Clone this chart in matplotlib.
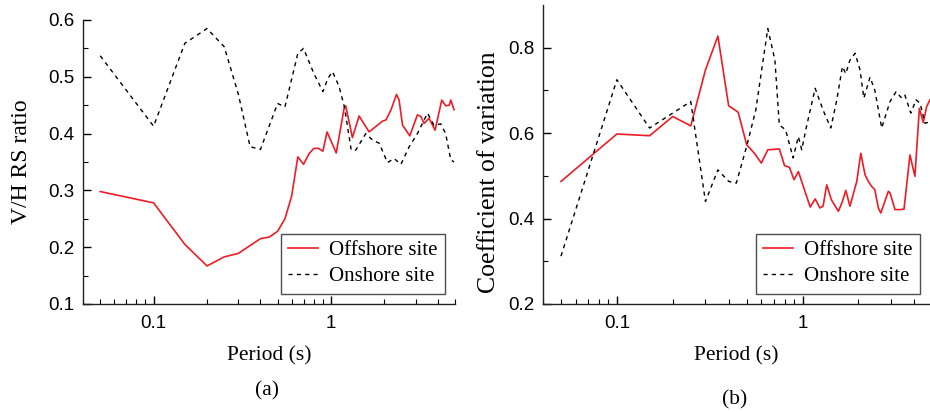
import matplotlib
matplotlib.use("Agg")
import matplotlib.pyplot as plt
from matplotlib.ticker import LogLocator, MultipleLocator, NullFormatter, FormatStrFormatter

# (a) V/H response spectral ratio
off_a_period = [0.05, 0.1, 0.15, 0.2, 0.25, 0.3, 0.4, 0.45, 0.5, 0.55, 0.6, 0.65, 0.7, 0.75,
                0.8, 0.85, 0.9, 0.95, 1.07, 1.19, 1.21, 1.32, 1.44, 1.64, 1.83, 1.95, 2.04,
                2.18, 2.34, 2.42, 2.53, 2.78, 3.07, 3.21, 3.35, 3.57, 3.86, 4.21, 4.43, 4.64,
                4.73, 4.94]
off_a_value = [0.298, 0.278, 0.205, 0.167, 0.183, 0.189, 0.215, 0.218, 0.228, 0.25, 0.29,
               0.359, 0.346, 0.364, 0.374, 0.374, 0.369, 0.403, 0.366, 0.447, 0.449, 0.393,
               0.431, 0.403, 0.415, 0.422, 0.424, 0.442, 0.469, 0.459, 0.415, 0.396, 0.433,
               0.43, 0.418, 0.427, 0.406, 0.459, 0.449, 0.45, 0.459, 0.442]
on_a_period = [0.05, 0.1, 0.15, 0.2, 0.25, 0.3, 0.35, 0.4, 0.5, 0.55, 0.65, 0.7, 0.8, 0.9,
               0.96, 1.02, 1.11, 1.19, 1.3, 1.38, 1.57, 1.71, 1.87, 2.08, 2.27, 2.48, 2.76,
               3.07, 3.5, 3.8, 4.16, 4.43, 4.73, 4.94]
on_a_value = [0.537, 0.413, 0.559, 0.585, 0.553, 0.47, 0.377, 0.372, 0.453, 0.447, 0.541,
              0.55, 0.506, 0.474, 0.497, 0.509, 0.483, 0.447, 0.371, 0.371, 0.40, 0.389,
              0.383, 0.349, 0.356, 0.346, 0.377, 0.40, 0.436, 0.415, 0.417, 0.40, 0.354, 0.35]

# (b) coefficient of variation
off_b_period = [0.05, 0.1, 0.15, 0.2, 0.25, 0.3, 0.35, 0.4, 0.45, 0.5, 0.55, 0.6, 0.65, 0.75,
                0.8, 0.85, 0.9, 0.95, 1.03, 1.1, 1.17, 1.24, 1.29, 1.35, 1.43, 1.56, 1.64,
                1.71, 1.8, 1.96, 2.06, 2.17, 2.26, 2.36, 2.45, 2.56, 2.64, 2.9, 2.96, 3.15,
                3.35, 3.52, 3.79, 4.03, 4.26, 4.47, 4.66, 4.86]
off_b_value = [0.487, 0.598, 0.594, 0.639, 0.617, 0.748, 0.827, 0.664, 0.649, 0.573, 0.553,
               0.53, 0.561, 0.563, 0.524, 0.52, 0.491, 0.51, 0.464, 0.427, 0.446, 0.425,
               0.429, 0.479, 0.444, 0.417, 0.44, 0.466, 0.429, 0.487, 0.553, 0.503, 0.487,
               0.475, 0.468, 0.425, 0.413, 0.464, 0.46, 0.421, 0.421, 0.422, 0.549, 0.499,
               0.658, 0.625, 0.662, 0.678]
on_b_period = [0.05, 0.1, 0.15, 0.2, 0.25, 0.3, 0.35, 0.4, 0.44, 0.5, 0.56, 0.65, 0.71, 0.75,
               0.81, 0.89, 0.95, 0.99, 1.05, 1.17, 1.29, 1.42, 1.53, 1.64, 1.71, 1.8, 1.92,
               2.04, 2.14, 2.31, 2.45, 2.67, 2.96, 3.19, 3.42, 3.56, 3.83, 4.09, 4.3, 4.57,
               4.86]
on_b_value = [0.312, 0.725, 0.612, 0.647, 0.674, 0.44, 0.514, 0.487, 0.483, 0.569, 0.654,
              0.845, 0.771, 0.619, 0.608, 0.542, 0.592, 0.561, 0.615, 0.705, 0.654, 0.612,
              0.678, 0.756, 0.739, 0.771, 0.787, 0.748, 0.682, 0.731, 0.701, 0.612, 0.674,
              0.697, 0.682, 0.689, 0.647, 0.678, 0.67, 0.623, 0.627]

serif = "Liberation Serif"
sans = "Liberation Sans"

fig = plt.figure(figsize=(9.3, 4.12), dpi=100)
ax1 = fig.add_axes([83 / 930, 1 - 304 / 412, 372 / 930, 284 / 412])
ax2 = fig.add_axes([543 / 930, 1 - 304 / 412, 387 / 930, 299 / 412])


def style(ax, ylabel, ylabelsize, ylabelpad):
    ax.set_xscale("log")
    for s in ["top", "right"]:
        ax.spines[s].set_visible(False)
    for s in ["left", "bottom"]:
        ax.spines[s].set_linewidth(1.0)
        ax.spines[s].set_color("#222222")
    ax.xaxis.set_major_locator(LogLocator(base=10, numticks=10))
    ax.xaxis.set_minor_locator(LogLocator(base=10, subs=range(2, 10), numticks=20))
    ax.xaxis.set_minor_formatter(NullFormatter())
    ax.xaxis.set_major_formatter(FormatStrFormatter("%g"))
    ax.tick_params(which="major", direction="in", length=6, width=1, labelsize=13.5)
    ax.tick_params(axis="y", which="major", pad=6)
    ax.tick_params(axis="x", which="major", pad=8)
    ax.tick_params(which="minor", direction="in", length=3.5, width=0.8)
    for lab in ax.get_xticklabels() + ax.get_yticklabels():
        lab.set_fontfamily(sans)
    ax.set_xlabel("Period (s)", fontfamily=serif, fontsize=15.5, labelpad=10)
    ax.set_ylabel(ylabel, fontfamily=serif, fontsize=ylabelsize, labelpad=ylabelpad)
    leg = ax.legend(loc="lower right", prop={"family": serif, "size": 15}, frameon=True,
                    fancybox=False, edgecolor="#222222", handlelength=1.45,
                    handletextpad=0.5, borderpad=0.35, borderaxespad=0.5,
                    labelspacing=0.3)
    leg.get_frame().set_linewidth(1.0)


ax1.plot(off_a_period, off_a_value, color="#ee1c25", lw=1.2, label="Offshore site")
ax1.plot(on_a_period, on_a_value, color="black", lw=1.0, ls=(0, (3, 3)), label="Onshore site")
ax1.set_xlim(0.04, 5)
ax1.set_ylim(0.1, 0.6)
ax1.yaxis.set_major_locator(MultipleLocator(0.1))
ax1.yaxis.set_minor_locator(MultipleLocator(0.05))
ax1.yaxis.set_major_formatter(FormatStrFormatter("%.1f"))
style(ax1, "V/H RS ratio", 17, 12)

ax2.plot(off_b_period, off_b_value, color="#ee1c25", lw=1.2, label="Offshore site")
ax2.plot(on_b_period, on_b_value, color="black", lw=1.0, ls=(0, (3, 3)), label="Onshore site")
ax2.set_xlim(0.04, 4.86)
ax2.set_ylim(0.2, 0.9)
ax2.set_yticks([0.2, 0.4, 0.6, 0.8])
ax2.set_yticks([0.3, 0.5, 0.7], minor=True)
ax2.yaxis.set_major_formatter(FormatStrFormatter("%.1f"))
style(ax2, "Coefficient of variation", 18.5, 6)
ax2.yaxis.label.set_y(0.44)

fig.text(267 / 930, 1 - 391 / 412, "(a)", fontfamily=serif, fontsize=15.5, ha="center", va="center")
fig.text(735 / 930, 1 - 400 / 412, "(b)", fontfamily=serif, fontsize=15.5, ha="center", va="center")

fig.savefig("out.png", dpi=100)
